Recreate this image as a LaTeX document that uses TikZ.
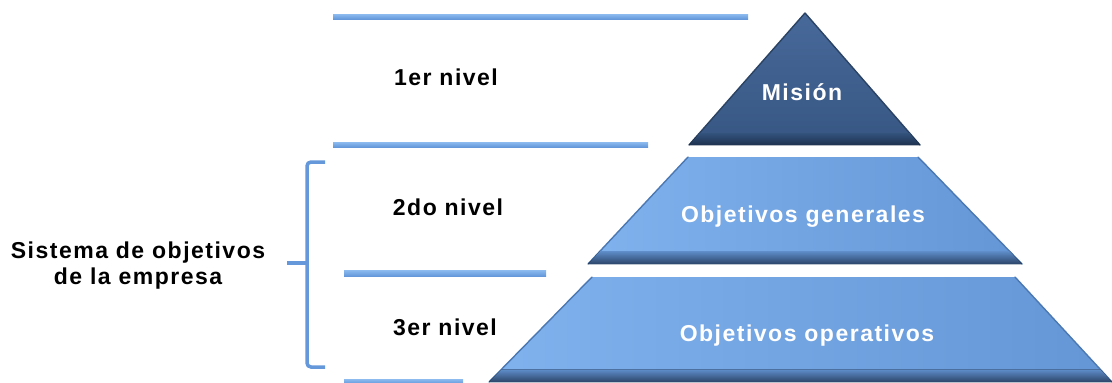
\documentclass[tikz,border=0pt]{standalone}
\usepackage{fontspec}
\setmainfont[LetterSpace=6.5]{Liberation Sans}
\usetikzlibrary{calc}

\definecolor{rulelight}{HTML}{8DBBF0}
\definecolor{ruledark}{HTML}{6498DA}
\definecolor{traplight}{HTML}{80B2EE}
\definecolor{trapdark}{HTML}{6496D6}
\definecolor{trapedge}{HTML}{4B78B2}
\definecolor{trapbevtop}{HTML}{5E8DC9}
\definecolor{trapbevbot}{HTML}{2C4569}
\definecolor{apexlight}{HTML}{47699A}
\definecolor{apexdark}{HTML}{375682}
\definecolor{apexedge}{HTML}{2A4364}
\definecolor{apexbevtop}{HTML}{33527C}
\definecolor{apexbevbot}{HTML}{1E3250}

\tikzset{
  levelrule/.style={top color=rulelight, bottom color=ruledark, draw=none},
  trapbody/.style={left color=traplight, right color=trapdark, draw=none},
  trapside/.style={draw=trapedge, line width=1.4pt, line cap=round},
  trapbevel/.style={top color=trapbevtop, bottom color=trapbevbot, draw=none},
  apexbody/.style={top color=apexlight, bottom color=apexdark, draw=none},
  apexside/.style={draw=apexedge, line width=1.4pt, line cap=round, line join=round},
  apexbevel/.style={top color=apexbevtop, bottom color=apexbevbot, draw=none},
  levellabel/.style={anchor=base, inner sep=0pt, text=black, font=\bfseries\fontsize{23}{26}\selectfont},
  tierlabel/.style={levellabel, text=white},
  bracket/.style={draw=ruledark, line width=3.5pt, rounded corners=4pt, line cap=butt}
}

\begin{document}
\begin{tikzpicture}[x=1pt, y=-1pt]
\useasboundingbox (0,0) rectangle (1112,383);

% horizontal rules separating the levels
\fill[levelrule] (333,14) rectangle (748,19);
\fill[levelrule] (333,142) rectangle (648,147);
\fill[levelrule] (344,270) rectangle (546,276);
\fill[levelrule] (344,379) rectangle (463,384);

% corners of the three tiers
\coordinate (mTop) at (805,13);
\coordinate (mL) at (689,145);
\coordinate (mR) at (920,145);
\coordinate (gTL) at (688,157);
\coordinate (gTR) at (918,157);
\coordinate (gBR) at (1022,264);
\coordinate (gBL) at (588,264);
\coordinate (oTL) at (592,277);
\coordinate (oTR) at (1015,277);
\coordinate (oBR) at (1112,382);
\coordinate (oBL) at (489,382);

% top tier: mission
\path[apexbody] (mTop) -- (mR) -- (mL) -- cycle;
\draw[apexside] (mL) -- (mTop) -- (mR);
\fill[apexbevel] ($(mTop)!0.91!(mL)$) -- ($(mTop)!0.91!(mR)$) -- (mR) -- (mL) -- cycle;

% middle tier: general objectives
\path[trapbody] (gTL) -- (gTR) -- (gBR) -- (gBL) -- cycle;
\draw[trapside] (gTL) -- (gBL);
\draw[trapside] (gTR) -- (gBR);
\fill[trapbevel] ($(gTL)!0.88!(gBL)$) -- ($(gTR)!0.88!(gBR)$) -- (gBR) -- (gBL) -- cycle;

% bottom tier: operational objectives
\path[trapbody] (oTL) -- (oTR) -- (oBR) -- (oBL) -- cycle;
\draw[trapside] (oTL) -- (oBL);
\draw[trapside] (oTR) -- (oBR);
\fill[trapbevel] ($(oTL)!0.88!(oBL)$) -- ($(oTR)!0.88!(oBR)$) -- (oBR) -- (oBL) -- cycle;

% tier labels
\node[tierlabel] (mision) at (802,100) {Misión};
\node[tierlabel] (generales) at (803,222) {Objetivos generales};
\node[tierlabel] (operativos) at (807,341) {Objetivos operativos};

% level labels
\node[levellabel] (nivel1) at (446,85) {1er nivel};
\node[levellabel] (nivel2) at (448,215) {2do nivel};
\node[levellabel] (nivel3) at (445,335) {3er nivel};

% bracket grouping levels 2 and 3
\coordinate (bkTop) at (325,162);
\coordinate (bkBot) at (325,367);
\coordinate (bkMid) at (307,263);
\coordinate (bkTip) at (287,263);
\draw[bracket] (bkTop) -- (307,162) -- (307,367) -- (bkBot);
\draw[bracket, rounded corners=0pt] (bkMid) -- (bkTip);

\node[levellabel] (sistema1) at (138,258) {Sistema de objetivos};
\node[levellabel] (sistema2) at (138,284) {de la empresa};
\end{tikzpicture}
\end{document}
